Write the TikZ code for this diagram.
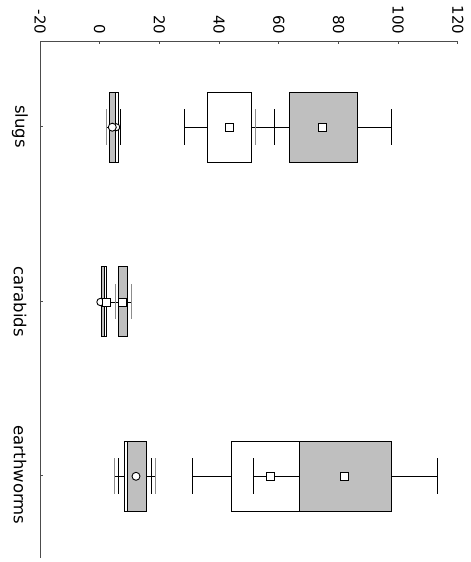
\documentclass[tikz,border=0pt]{standalone}
\usepackage{fontspec}
\setmainfont{DejaVu Sans}
\begin{document}
\begin{tikzpicture}[x=1pt,y=-1pt,
  axisline/.style={draw=black!70,line width=0.9pt},
  wline/.style={draw=black,line width=0.9pt},
  gcap/.style={draw=black!45,line width=0.9pt},
  wbox/.style={draw=black,fill=white,line width=0.9pt},
  gbox/.style={draw=black,fill=black!25,line width=0.9pt},
  mk/.style={draw=black,fill=white,line width=0.9pt},
  ticklab/.style={rotate=-90,anchor=east,inner sep=0pt,font=\fontsize{15}{18}\selectfont},
  catlab/.style={rotate=-90,inner sep=0pt,font=\fontsize{16.5}{19}\selectfont}]
\useasboundingbox (0,0) rectangle (471,562);
% axes
\draw[axisline] (40,41.3) -- (458.3,41.3);
\draw[axisline] (40,41.3) -- (40,558);
\foreach \v/\l in {-20/-20,0/0,20/20,40/40,60/60,80/80,100/100,120/120}{
  \pgfmathsetmacro{\xx}{99.7+2.9845*\v}
  \draw[axisline] (\xx,41.3) -- (\xx,43.5);
  \node[ticklab] at (\xx,34.5) {\l};
}
\foreach \cy/\nm in {126.7/slugs,301.7/carabids,475/earthworms}{
  \draw[axisline] (40,\cy) -- (42.5,\cy);
  \node[catlab] at (20,\cy) {\nm};
}
% ---------- slugs (cy = 127.2) ----------
% big white series
\draw[wline] (184.7,127.2) -- (207.3,127.2);
\draw[wline] (184.7,109) -- (184.7,144.5);
\draw[wline] (251.7,127.2) -- (274.3,127.2);
\draw[wline] (274.3,109) -- (274.3,144.5);
\draw[wbox] (207.3,92.3) rectangle (251.7,162);
\draw[mk] (225.3,123.2) rectangle (233.3,131.2);
% big gray series
\draw[wline] (255.7,127.2) -- (289.7,127.2);
\draw[gcap] (255.7,109) -- (255.7,144.5);
\draw[wline] (357.7,127.2) -- (391.7,127.2);
\draw[wline] (391.7,109) -- (391.7,144.5);
\draw[gbox] (289.7,92.3) rectangle (357.7,162);
\draw[mk] (318.7,123.2) rectangle (326.7,131.2);
% small series
\draw[wline] (106.7,127.2) -- (120,127.2);
\draw[gcap] (106.7,109) -- (106.7,144.5);
\draw[gcap] (116.7,109) -- (116.7,144.5);
\draw[wline] (120,109) -- (120,144.5);
\draw[wbox] (109.7,92.3) rectangle (118.3,162);
\draw[gbox] (109.7,92.3) rectangle (115,162);
\draw[mk] (116.3,127.2) circle (3.5);
\draw[mk] (112.3,127.2) circle (4);
% ---------- carabids (cy = 302) ----------
\draw[wline] (101,302) -- (131,302);
\draw[gcap] (115,284) -- (115,319.3);
\draw[gcap] (131,284) -- (131,319.3);
\draw[wbox] (101,266.7) rectangle (106.7,336.7);
\draw[gbox] (101,266.7) rectangle (104.3,336.7);
\draw[draw=black,line width=1.6pt] (101.6,284) -- (101.6,319.3);
\draw[draw=black,line width=1.2pt] (106.2,284) -- (106.2,319.3);
\draw[gbox] (118.3,266.7) rectangle (127,336.7);
\draw[mk] (100.5,302) circle (3.7);
\draw[mk] (102.3,298.2) rectangle (110,306);
\draw[mk] (118.3,298) rectangle (126.3,306);
% ---------- earthworms (cy = 476.3) ----------
% small series
\draw[wline] (114.3,476.3) -- (124.3,476.3);
\draw[wline] (146.7,476.3) -- (155,476.3);
\draw[gcap] (114.3,458.3) -- (114.3,494.3);
\draw[wline] (118.3,458.3) -- (118.3,494.3);
\draw[wline] (151,458.3) -- (151,494.3);
\draw[gcap] (155,458.3) -- (155,494.3);
\draw[wbox] (124.3,441) rectangle (146.7,511);
\draw[gbox] (127.7,441) rectangle (146.7,511);
\draw[mk] (136,476.3) circle (4);
% big white series
\draw[wline] (192.3,476.3) -- (231.7,476.3);
\draw[wline] (192.3,458.3) -- (192.3,494.3);
\draw[wbox] (231.7,441) rectangle (299.3,511);
% big gray series
\draw[wline] (253.3,476.3) -- (299.3,476.3);
\draw[wline] (253.3,458.3) -- (253.3,494.3);
\draw[wline] (391.7,476.3) -- (437.3,476.3);
\draw[wline] (437.3,458.3) -- (437.3,494.3);
\draw[gbox] (299.3,441) rectangle (391.7,511);
\draw[mk] (266.7,472.3) rectangle (274.7,480.3);
\draw[mk] (340.7,472.3) rectangle (348.7,480.3);
\end{tikzpicture}
\end{document}
